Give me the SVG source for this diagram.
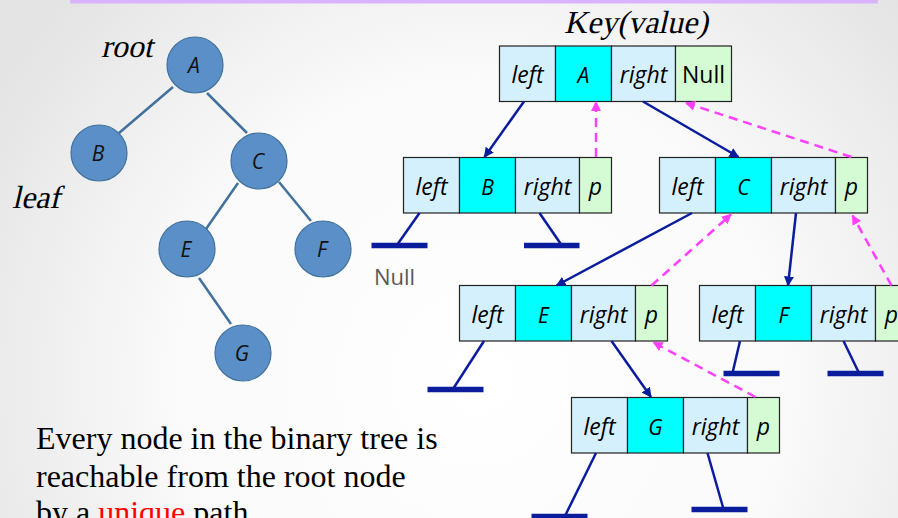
<svg xmlns="http://www.w3.org/2000/svg" width="898" height="518" viewBox="0 0 898 518">
<defs>
<radialGradient id="bg" cx="480" cy="380" r="560" gradientUnits="userSpaceOnUse">
<stop offset="0" stop-color="#ffffff"/>
<stop offset="0.55" stop-color="#fafafa"/>
<stop offset="1" stop-color="#e4e4e4"/>
</radialGradient>
<marker id="ab" viewBox="0 0 10 10" refX="9" refY="5" markerWidth="10" markerHeight="10" markerUnits="userSpaceOnUse" orient="auto">
<path d="M0,0 L10,5 L0,10 z" fill="#0b1d9c"/>
</marker>
<marker id="am" viewBox="0 0 10 10" refX="9" refY="5" markerWidth="10" markerHeight="10" markerUnits="userSpaceOnUse" orient="auto">
<path d="M0,0 L10,5 L0,10 z" fill="#ff40ff"/>
</marker>
</defs>
<style>
.cl{fill:#d5f0fd;stroke:#222;stroke-width:1.2}
.ck{fill:#00ffff;stroke:#222;stroke-width:1.2}
.cp{fill:#d5fbd5;stroke:#222;stroke-width:1.2}
.ct{font-family:"Open Sans",sans-serif;font-style:italic;font-size:23px;fill:#000;text-anchor:middle}
.ck2{font-family:"Open Sans",sans-serif;font-style:italic;font-size:21px;fill:#000;text-anchor:middle}
.cn{font-family:"Open Sans",sans-serif;font-size:23px;fill:#000;text-anchor:middle}
.lnk{stroke:#0b1d9c;stroke-width:2.5;fill:none}
.bar{stroke:#0b1d9c;stroke-width:5.5;fill:none}
.par{stroke:#ff40ff;stroke-width:2.5;stroke-dasharray:9,6;fill:none}
.circ{fill:#5b8fc7;stroke:#41719c;stroke-width:1.2}
.edge{stroke:#41719c;stroke-width:2.5}
.cl2{font-family:"Open Sans",sans-serif;font-style:italic;font-size:21px;fill:#111;text-anchor:middle}
.ser{font-family:"Liberation Serif","Times New Roman",serif;font-size:32px;fill:#000}
</style>
<rect x="0" y="0" width="898" height="518" fill="url(#bg)"/>
<rect x="70" y="0" width="808" height="3.5" fill="#dab4fa"/>

<!-- left tree -->
<g id="tree-edges">
<line class="edge" x1="173" y1="87" x2="119" y2="133"/>
<line class="edge" x1="207" y1="93" x2="247" y2="133"/>
<line class="edge" x1="238" y1="183" x2="206" y2="229"/>
<line class="edge" x1="279" y1="182" x2="311" y2="221"/>
<line class="edge" x1="199" y1="278" x2="231" y2="324"/>
</g>
<g id="tA"><circle class="circ" cx="195" cy="65" r="28"/><text class="cl2" x="194" y="73">A</text></g>
<g id="tB"><circle class="circ" cx="99" cy="153" r="28"/><text class="cl2" x="98" y="161">B</text></g>
<g id="tC"><circle class="circ" cx="259" cy="161" r="28"/><text class="cl2" x="258" y="169">C</text></g>
<g id="tE"><circle class="circ" cx="187" cy="249" r="28"/><text class="cl2" x="186" y="257">E</text></g>
<g id="tF"><circle class="circ" cx="323" cy="249" r="28"/><text class="cl2" x="322" y="257">F</text></g>
<g id="tG"><circle class="circ" cx="243" cy="353" r="28"/><text class="cl2" x="242" y="361">G</text></g>

<g transform="translate(101,57) skewX(-13)"><text class="ser" x="0" y="0">root</text></g>
<g transform="translate(12,208) skewX(-13)"><text class="ser" x="0" y="0">leaf</text></g>
<g transform="translate(564,33) skewX(-13)"><text class="ser" x="0" y="0" font-size="31">Key(value)</text></g>
<text class="ser" x="36" y="449">Every node in the binary tree is</text>
<text class="ser" x="36" y="487">reachable from the root node</text>
<text class="ser" x="36" y="523">by a <tspan fill="#ff0000">unique</tspan> path</text>

<!-- record nodes -->
<g id="nA" transform="translate(499.5,46)">
<rect class="cl" x="0" y="0" width="56" height="55.5"/>
<rect class="ck" x="56" y="0" width="56" height="55.5"/>
<rect class="cl" x="112" y="0" width="64" height="55.5"/>
<rect class="cp" x="176" y="0" width="56" height="55.5"/>
<text class="ct" x="28" y="37">left</text>
<text class="ck2" x="84" y="37">A</text>
<text class="ct" x="144" y="37">right</text>
<text class="cn" x="204" y="37">Null</text>
</g>
<g id="nB" transform="translate(403.5,157.5)">
<rect class="cl" x="0" y="0" width="56" height="55.5"/>
<rect class="ck" x="56" y="0" width="56" height="55.5"/>
<rect class="cl" x="112" y="0" width="64" height="55.5"/>
<rect class="cp" x="176" y="0" width="32" height="55.5"/>
<text class="ct" x="28" y="37">left</text>
<text class="ck2" x="84" y="37">B</text>
<text class="ct" x="144" y="37">right</text>
<text class="ct" x="192" y="37">p</text>
</g>
<g id="nC" transform="translate(659.5,157.5)">
<rect class="cl" x="0" y="0" width="56" height="55.5"/>
<rect class="ck" x="56" y="0" width="56" height="55.5"/>
<rect class="cl" x="112" y="0" width="64" height="55.5"/>
<rect class="cp" x="176" y="0" width="32" height="55.5"/>
<text class="ct" x="28" y="37">left</text>
<text class="ck2" x="84" y="37">C</text>
<text class="ct" x="144" y="37">right</text>
<text class="ct" x="192" y="37">p</text>
</g>
<g id="nE" transform="translate(459.5,285.5)">
<rect class="cl" x="0" y="0" width="56" height="55.5"/>
<rect class="ck" x="56" y="0" width="56" height="55.5"/>
<rect class="cl" x="112" y="0" width="64" height="55.5"/>
<rect class="cp" x="176" y="0" width="32" height="55.5"/>
<text class="ct" x="28" y="37">left</text>
<text class="ck2" x="84" y="37">E</text>
<text class="ct" x="144" y="37">right</text>
<text class="ct" x="192" y="37">p</text>
</g>
<g id="nF" transform="translate(699.5,285.5)">
<rect class="cl" x="0" y="0" width="56" height="55.5"/>
<rect class="ck" x="56" y="0" width="56" height="55.5"/>
<rect class="cl" x="112" y="0" width="64" height="55.5"/>
<rect class="cp" x="176" y="0" width="32" height="55.5"/>
<text class="ct" x="28" y="37">left</text>
<text class="ck2" x="84" y="37">F</text>
<text class="ct" x="144" y="37">right</text>
<text class="ct" x="192" y="37">p</text>
</g>
<g id="nG" transform="translate(571.5,397.5)">
<rect class="cl" x="0" y="0" width="56" height="55.5"/>
<rect class="ck" x="56" y="0" width="56" height="55.5"/>
<rect class="cl" x="112" y="0" width="64" height="55.5"/>
<rect class="cp" x="176" y="0" width="32" height="55.5"/>
<text class="ct" x="28" y="37">left</text>
<text class="ck2" x="84" y="37">G</text>
<text class="ct" x="144" y="37">right</text>
<text class="ct" x="192" y="37">p</text>
</g>

<text x="374" y="285" font-family="'Open Sans',sans-serif" font-size="22" fill="#595959">Null</text>

<g id="connectors">
<line class="lnk" x1="524" y1="101.5" x2="484.5" y2="157" marker-end="url(#ab)"/>
<line class="lnk" x1="643" y1="101.5" x2="738.5" y2="157" marker-end="url(#ab)"/>
<line class="lnk" x1="692" y1="213" x2="556.5" y2="285.5" marker-end="url(#ab)"/>
<line class="lnk" x1="796" y1="213" x2="788" y2="285.5" marker-end="url(#ab)"/>
<line class="lnk" x1="611.5" y1="341" x2="651" y2="397" marker-end="url(#ab)"/>
<line class="lnk" x1="419.5" y1="213" x2="397" y2="245"/>
<line class="bar" x1="371.5" y1="245.5" x2="427.5" y2="245.5"/>
<line class="lnk" x1="539.5" y1="213" x2="561.5" y2="245"/>
<line class="bar" x1="524" y1="245.5" x2="579.5" y2="245.5"/>
<line class="lnk" x1="484" y1="341" x2="453" y2="389"/>
<line class="bar" x1="427.5" y1="389.5" x2="483.5" y2="389.5"/>
<line class="lnk" x1="740" y1="341" x2="732.5" y2="373"/>
<line class="bar" x1="723.5" y1="373.5" x2="779.5" y2="373.5"/>
<line class="lnk" x1="843.5" y1="341" x2="859" y2="373"/>
<line class="bar" x1="827.5" y1="373.5" x2="883.5" y2="373.5"/>
<line class="lnk" x1="596" y1="453" x2="565" y2="516"/>
<line class="bar" x1="531.5" y1="516.5" x2="587.5" y2="516.5"/>
<line class="lnk" x1="707.5" y1="453" x2="723.5" y2="509"/>
<line class="bar" x1="691.5" y1="509.5" x2="747.5" y2="509.5"/>
<line class="par" x1="596" y1="157" x2="596" y2="102" marker-end="url(#am)"/>
<line class="par" x1="851.5" y1="157" x2="686" y2="103" marker-end="url(#am)"/>
<line class="par" x1="651.5" y1="285.5" x2="731" y2="214.5" marker-end="url(#am)"/>
<line class="par" x1="891.5" y1="285.5" x2="852.5" y2="215.5" marker-end="url(#am)"/>
<line class="par" x1="755.5" y1="397" x2="653.5" y2="342.5" marker-end="url(#am)"/>
</g>
</svg>
